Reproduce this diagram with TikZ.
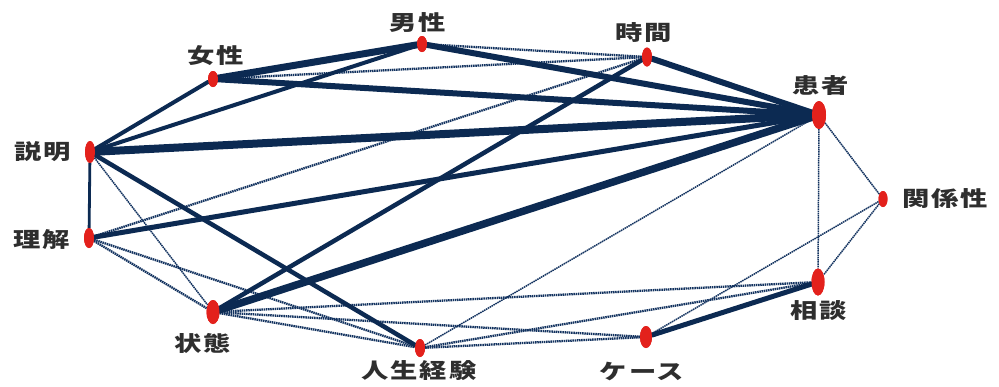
\documentclass[tikz,border=0pt]{standalone}
\usepackage{fontspec}
\newfontfamily\jp[FakeStretch=1.3,LetterSpace=9]{Noto Sans CJK JP}
\usetikzlibrary{shapes.geometric}
\definecolor{navy}{HTML}{0C2A52}
\definecolor{dotnavy}{HTML}{12325F}
\definecolor{nodered}{HTML}{E3211C}
\definecolor{labelgray}{HTML}{2E2E2E}
\begin{document}
\begin{tikzpicture}[x=1pt,y=-1pt,
  dotnode/.style={ellipse,fill=nodered,draw=none,inner sep=0pt},
  lbl/.style={font=\jp\bfseries\fontsize{21}{23}\selectfont,text=labelgray,inner sep=0pt},
  solidedge/.style={draw=navy,line cap=round},
  dotedge/.style={draw=dotnavy,line width=2.3pt,dash pattern=on 1.5pt off 0.7pt},
  thindot/.style={draw=dotnavy,line width=1.5pt,dash pattern=on 1.5pt off 0.7pt}]
\fill[white] (0,0) rectangle (999,386);
\useasboundingbox (0,0) rectangle (999,386);
% nodes
\node[dotnode,minimum width=10pt,minimum height=16pt] (M) at (422,44) {};
\node[dotnode,minimum width=10pt,minimum height=19pt] (T) at (647,57) {};
\node[dotnode,minimum width=10pt,minimum height=16pt] (F) at (213,79) {};
\node[dotnode,minimum width=14pt,minimum height=28pt] (P) at (819,115) {};
\node[dotnode,minimum width=10pt,minimum height=22pt] (E) at (90,152) {};
\node[dotnode,minimum width=9pt,minimum height=16pt] (R) at (883,199) {};
\node[dotnode,minimum width=10pt,minimum height=20pt] (U) at (89,238) {};
\node[dotnode,minimum width=13pt,minimum height=27pt] (S) at (818,282) {};
\node[dotnode,minimum width=13pt,minimum height=24pt] (J) at (213,312) {};
\node[dotnode,minimum width=12pt,minimum height=22pt] (K) at (646,337) {};
\node[dotnode,minimum width=10pt,minimum height=18pt] (L) at (420,348) {};
% dotted edges
\draw[dotedge] (M) -- (T);
\draw[dotedge] (F) -- (T);
\draw[dotedge] (U) -- (T);
\draw[dotedge] (U) -- (J);
\draw[dotedge] (U) -- (L);
\draw[dotedge] (J) -- (L);
\draw[dotedge] (J) -- (K);
\draw[dotedge] (J) -- (S);
\draw[dotedge] (L) -- (K);
\draw[dotedge] (L) -- (S);
\draw[thindot] (P) -- (L);
\draw[thindot] (E) -- (J);
\draw[thindot] (P) -- (S);
\draw[thindot] (P) -- (R);
\draw[thindot] (R) -- (S);
\draw[thindot] (R) -- (K);
% solid edges
\draw[solidedge,line width=8pt] (E) -- (P);
\draw[solidedge,line width=7.5pt] (J) -- (P);
\draw[solidedge,line width=7pt] (M) -- (F);
\draw[solidedge,line width=6pt] (F) -- (P);
\draw[solidedge,line width=6pt] (M) -- (P);
\draw[solidedge,line width=6pt] (T) -- (P);
\draw[solidedge,line width=5pt] (U) -- (P);
\draw[solidedge,line width=4.5pt] (E) -- (L);
\draw[solidedge,line width=4.5pt] (J) -- (T);
\draw[solidedge,line width=5pt] (K) -- (S);
\draw[solidedge,line width=4pt] (E) -- (F);
\draw[solidedge,line width=4pt] (E) -- (M);
\draw[solidedge,line width=2.8pt] (E) -- (U);
% redraw nodes on top
\foreach \n/\w/\h in {M/10/16,T/10/19,F/10/16,P/14/28,E/10/22,R/9/16,U/10/20,S/13/27,J/13/24,K/12/22,L/10/18}
  \fill[nodered] (\n.center) ellipse ({\w/2} and {\h/2});
% labels
\node[lbl] (lM) at (418,23) {男性};
\node[lbl] (lT) at (644,33) {時間};
\node[lbl] (lF) at (216,56) {女性};
\node[lbl] (lP) at (821,86) {患者};
\node[lbl] (lE) at (43,152) {説明};
\node[lbl] (lR) at (945,199) {関係性};
\node[lbl] (lU) at (42,240) {理解};
\node[lbl] (lS) at (819,311) {相談};
\node[lbl] (lJ) at (203,343) {状態};
\node[lbl] (lK) at (642,371) {ケース};
\node[lbl] (lL) at (419,371) {人生経験};
\end{tikzpicture}
\end{document}
